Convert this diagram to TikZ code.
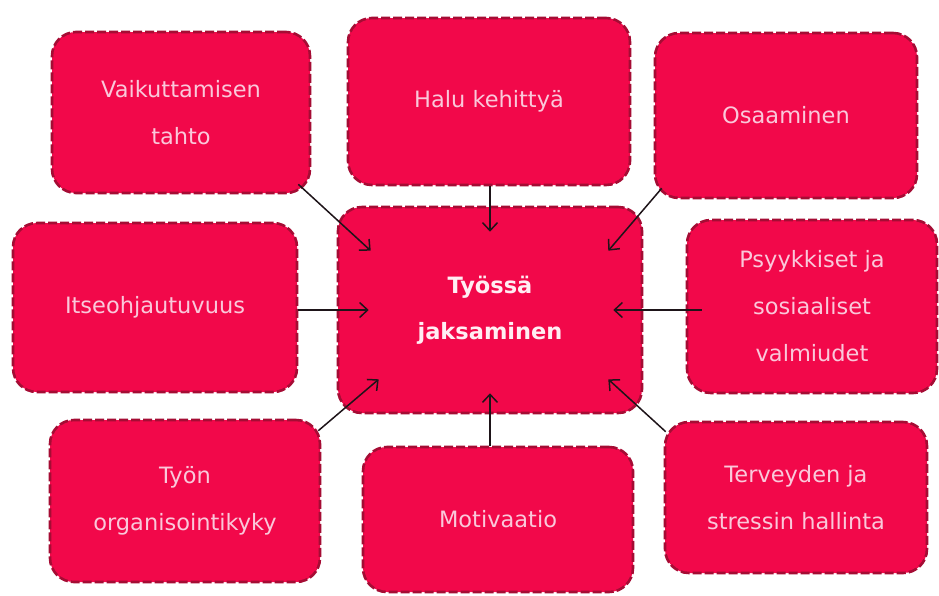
\documentclass[tikz,border=0pt]{standalone}
\usepackage{fontspec}
\setmainfont{DejaVu Sans}
\usetikzlibrary{arrows.meta,calc}
\definecolor{boxfill}{RGB}{242,8,74}
\definecolor{boxedge}{RGB}{165,12,52}
\definecolor{boxtext}{RGB}{250,200,218}
\definecolor{centertext}{RGB}{255,238,243}
\definecolor{arrowcol}{RGB}{30,20,25}
\tikzset{
  cbox/.style={rectangle, rounded corners=24pt, fill=boxfill, draw=boxedge,
    line width=2.6pt, dash pattern=on 9pt off 3pt,
    preaction={draw=white, line width=2.6pt, solid},
    text=boxtext, align=center, font=\fontsize{22.5}{47}\selectfont, inner sep=0pt},
  mainbox/.style={cbox, text=centertext, font=\fontsize{22.5}{46}\selectfont\bfseries},
  arr/.style={draw=arrowcol, line width=1.5pt, -{Straight Barb[length=8pt,width=15pt]}}
}
\begin{document}
\begin{tikzpicture}[x=1pt,y=-1pt]
\useasboundingbox[fill=white] (0,0) rectangle (939,595);
\node[mainbox, minimum width=304pt, minimum height=206pt] (c) at (490,310) {Työssä\\jaksaminen};
\node[cbox, minimum width=258pt, minimum height=161pt] (vt) at (181,112.5) {Vaikuttamisen\\tahto};
\node[cbox, minimum width=282pt, minimum height=167pt] (halu) at (489,101.5) {Halu kehittyä};
\node[cbox, minimum width=262pt, minimum height=165pt] (osa) at (786,115.5) {Osaaminen};
\node[cbox, minimum width=284pt, minimum height=169pt] (its) at (155,307.5) {Itseohjautuvuus};
\node[cbox, minimum width=250pt, minimum height=173pt] (psy) at (812,306.5) {Psyykkiset ja\\sosiaaliset\\valmiudet};
\node[cbox, minimum width=270pt, minimum height=162pt] (tyo) at (185,501) {Työn\\organisointikyky};
\node[cbox, minimum width=270pt, minimum height=145pt] (mot) at (498,519.5) {Motivaatio};
\node[cbox, minimum width=262pt, minimum height=151pt] (ter) at (796,497.5) {Terveyden ja\\stressin hallinta};

\draw[arr] ($(vt.south east)+(-13,-10)$) -- ($(c.north west)+(34,45)$);
\draw[arr] (halu.south -| c.north) -- ($(c.north)+(0,26)$);
\draw[arr] ($(osa.south west)+(8,-11)$) -- ($(c.north east)+(-35,45)$);
\draw[arr] (its.east |- c.west) -- ($(c.west)+(32,0)$);
\draw[arr] ($(psy.west |- c.east)+(16,0)$) -- ($(c.east)+(-30,0)$);
\draw[arr] ($(tyo.north east)+(-3,12)$) -- ($(c.south west)+(42,-35)$);
\draw[arr] (mot.north -| c.south) -- ($(c.south)+(0,-21)$);
\draw[arr] ($(ter.north west)+(2,11)$) -- ($(c.south east)+(-35,-35)$);
\end{tikzpicture}
\end{document}
